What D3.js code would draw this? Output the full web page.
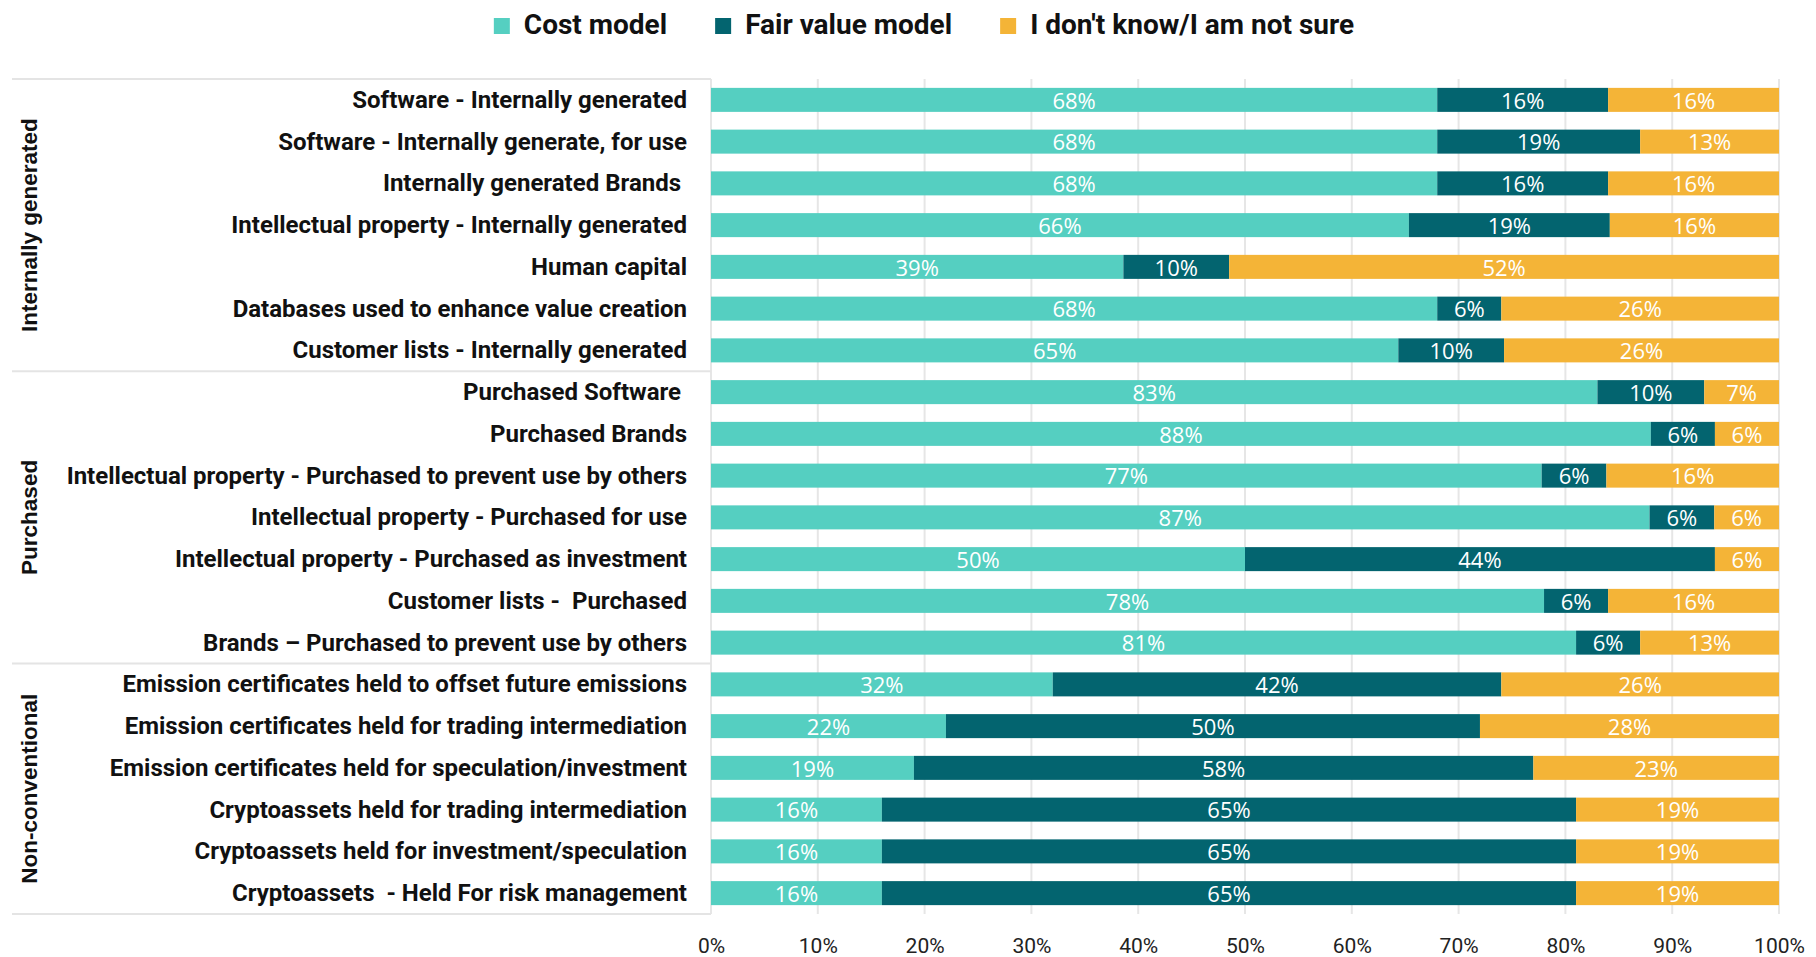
<!DOCTYPE html>
<html>
<head>
<meta charset="utf-8">
<script src="https://cdn.jsdelivr.net/npm/d3@7"></script>
<style>
  html, body { margin: 0; padding: 0; background: #ffffff; }
  svg { display: block; }
  text { white-space: pre; }
</style>
</head>
<body>
<svg id="chart" width="1816" height="957"></svg>
<script>
// Accounting model chosen for each intangible asset type (% of respondents)
const categories = [
  "Software - Internally generated",
  "Software - Internally generate, for use",
  "Internally generated Brands ",
  "Intellectual property - Internally generated",
  "Human capital",
  "Databases used to enhance value creation",
  "Customer lists - Internally generated",
  "Purchased Software ",
  "Purchased Brands",
  "Intellectual property - Purchased to prevent use by others",
  "Intellectual property - Purchased for use",
  "Intellectual property - Purchased as investment",
  "Customer lists -  Purchased",
  "Brands \u2013 Purchased to prevent use by others",
  "Emission certificates held to offset future emissions",
  "Emission certificates held for trading intermediation",
  "Emission certificates held for speculation/investment",
  "Cryptoassets held for trading intermediation",
  "Cryptoassets held for investment/speculation",
  "Cryptoassets  - Held For risk management"
];

const costModel      = [68, 68, 68, 66, 39, 68, 65, 83, 88, 77, 87, 50, 78, 81, 32, 22, 19, 16, 16, 16];
const fairValueModel = [16, 19, 16, 19, 10,  6, 10, 10,  6,  6,  6, 44,  6,  6, 42, 50, 58, 65, 65, 65];
const notSure        = [16, 13, 16, 16, 52, 26, 26,  7,  6, 16,  6,  6, 16, 13, 26, 28, 23, 19, 19, 19];

const seriesNames = ["Cost model", "Fair value model", "I don't know/I am not sure"];
const seriesKeys  = ["cost", "fair", "unsure"];
const seriesColors = ["#55cfc1", "#03646f", "#f4b437"];

const groupNames  = ["Internally generated", "Purchased", "Non-conventional"];
const groupSizes  = [7, 7, 6];

const tickValues = [0, 0.1, 0.2, 0.3, 0.4, 0.5, 0.6, 0.7, 0.8, 0.9, 1.0];

// ---- layout ----
const plotLeft = 711, plotRight = 1779;
const plotTop = 79, plotBottom = 914;
const panelLeft = 12;

const svg = d3.select("#chart");

const rows = categories.map((c, i) => ({
  name: c, cost: costModel[i], fair: fairValueModel[i], unsure: notSure[i]
}));

// each bar is normalised to the full width
const stack = d3.stack().keys(seriesKeys).offset(d3.stackOffsetExpand);
const stacked = stack(rows);

const x = d3.scaleLinear().domain([0, 1]).range([plotLeft, plotRight]);
const y = d3.scaleBand()
  .domain(categories)
  .range([plotTop, plotBottom])
  .paddingInner(0.425)
  .paddingOuter(0.2125);

const color = d3.scaleOrdinal().domain(seriesKeys).range(seriesColors);

// vertical gridlines
svg.append("g")
  .selectAll("line")
  .data(tickValues)
  .join("line")
  .attr("x1", d => x(d)).attr("x2", d => x(d))
  .attr("y1", plotTop).attr("y2", plotBottom)
  .attr("stroke", "#e6e6e6")
  .attr("stroke-width", 2);

// group separators across the label panel
const boundaries = [0];
groupSizes.reduce((acc, n) => { boundaries.push(acc + n); return acc + n; }, 0);
const step = y.step();
const boundaryY = i => i === 0 ? plotTop : (i === categories.length ? plotBottom : y(categories[i]) - step * y.paddingInner() / 2);

svg.append("g")
  .selectAll("line")
  .data(boundaries)
  .join("line")
  .attr("x1", panelLeft).attr("x2", plotLeft)
  .attr("y1", d => boundaryY(d)).attr("y2", d => boundaryY(d))
  .attr("stroke", "#e4e4e4")
  .attr("stroke-width", 2);

// stacked bars
const layers = svg.append("g")
  .selectAll("g")
  .data(stacked)
  .join("g")
  .attr("fill", d => color(d.key));

layers.selectAll("rect")
  .data(d => d)
  .join("rect")
  .attr("x", d => x(d[0]))
  .attr("width", d => x(d[1]) - x(d[0]))
  .attr("y", d => y(d.data.name))
  .attr("height", y.bandwidth());

// value labels
const valueLabels = svg.append("g")
  .attr("font-family", "'Open Sans', sans-serif")
  .attr("font-size", 22)
  .attr("fill", "#ffffff")
  .attr("text-anchor", "middle");

stacked.forEach(layer => {
  valueLabels.selectAll(null)
    .data(layer)
    .join("text")
    .attr("x", d => (x(d[0]) + x(d[1])) / 2)
    .attr("y", d => y(d.data.name) + y.bandwidth() / 2)
    .attr("dy", "0.4em")
    .text(d => d.data[layer.key] + "%");
});

// category labels
svg.append("g")
  .attr("font-family", "Roboto, sans-serif")
  .attr("font-weight", 700)
  .attr("font-size", 24)
  .attr("fill", "#111111")
  .attr("text-anchor", "end")
  .selectAll("text")
  .data(categories)
  .join("text")
  .attr("x", 687)
  .attr("y", d => y(d) + y.bandwidth() / 2)
  .attr("dy", "0.33em")
  .text(d => d);

// group labels (rotated)
svg.append("g")
  .attr("font-family", "'Liberation Sans', Arial, sans-serif")
  .attr("font-weight", 700)
  .attr("font-size", 22.5)
  .attr("fill", "#111111")
  .attr("text-anchor", "middle")
  .selectAll("text")
  .data(groupNames)
  .join("text")
  .attr("transform", (d, i) => {
    const cy = (boundaryY(boundaries[i]) + boundaryY(boundaries[i + 1])) / 2;
    return `translate(37,${cy}) rotate(-90)`;
  })
  .text(d => d);

// x axis
const xAxis = d3.axisBottom(x)
  .tickValues(tickValues)
  .tickFormat(d3.format(".0%"))
  .tickSize(0)
  .tickPadding(0);

const axisG = svg.append("g")
  .attr("transform", `translate(0,${plotBottom})`)
  .call(xAxis);
axisG.select(".domain").remove();
axisG.selectAll("text")
  .attr("font-family", "Roboto, sans-serif")
  .attr("font-size", 21)
  .attr("fill", "#222222")
  .attr("dy", null)
  .attr("y", 39);

// legend
const legend = svg.append("g")
  .attr("font-family", "Roboto, sans-serif")
  .attr("font-weight", 700)
  .attr("font-size", 28)
  .attr("fill", "#111111");

const items = legend.selectAll("g")
  .data(seriesNames)
  .join("g");

items.append("rect")
  .attr("width", 16).attr("height", 16)
  .attr("y", 18)
  .attr("fill", (d, i) => seriesColors[i]);

items.append("text")
  .attr("x", 30)
  .attr("y", 34)
  .text(d => d);

const widths = [];
items.each(function () {
  widths.push(this.querySelector("text").getComputedTextLength() + 30);
});
const gap = 48;
const total = d3.sum(widths) + gap * (widths.length - 1);
const legendCenter = 924;
let cursor = legendCenter - total / 2;
items.attr("transform", (d, i) => {
  const tx = cursor;
  cursor += widths[i] + gap;
  return `translate(${tx},0)`;
});
</script>
</body>
</html>
